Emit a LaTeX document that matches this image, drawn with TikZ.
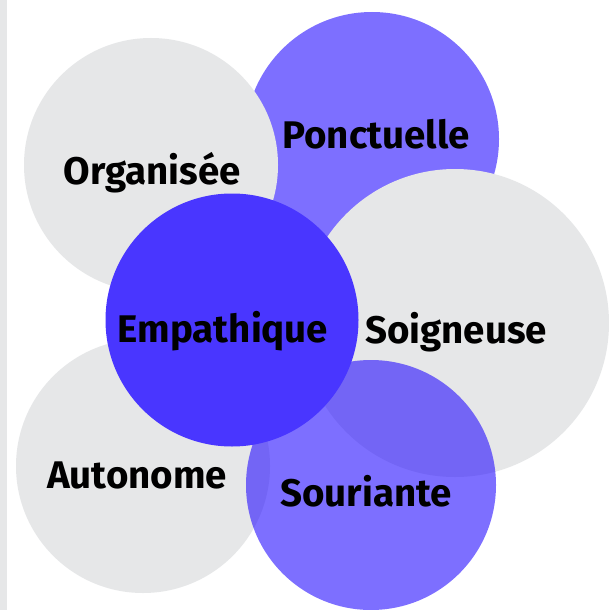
\documentclass[tikz,border=0pt]{standalone}
\usepackage{fontspec}
\setmainfont{Fira Sans}
\usepackage{tikz}
\usetikzlibrary{backgrounds}
\definecolor{gris}{HTML}{E6E7E8}
\definecolor{bleuvif}{HTML}{4936FF}
\definecolor{bleubase}{RGB}{32,8,255}

\begin{document}
\begin{tikzpicture}[x=1pt,y=-1pt,
  bulle/.style={circle,inner sep=0pt,minimum size=#1},
  grise/.style={bulle=#1,fill=gris},
  mauve/.style={bulle=#1,fill=bleubase,fill opacity=0.58},
  mot/.style={anchor=base,inner sep=0pt,font=\fontsize{38.5}{42}\selectfont\bfseries}]
\useasboundingbox (0,0) rectangle (608,610);
\fill[white] (0,0) rectangle (608,610);
\fill[gris] (0,0) rectangle (7,610);
% les bulles
\node[mauve=254pt] (ponctuelle) at (372,139) {};
\node[grise=254pt] (organisee) at (151,165) {};
\node[grise=308pt] (soigneuse) at (455,323) {};
\node[grise=254pt] (autonome) at (143,466) {};
\node[mauve=250pt] (souriante) at (371,485) {};
\node[bulle=253pt,fill=bleuvif] (empathique) at (232,320) {};
% les mots
\node[mot] (tponctuelle) at (376,148.5) {Ponctuelle};
\node[mot] (torganisee) at (152,184) {Organisée};
\node[mot] (tempathique) at (223,342) {Empathique};
\node[mot] (tsoigneuse) at (456,343) {Soigneuse};
\node[mot] (tautonome) at (137,488.5) {Autonome};
\node[mot] (tsouriante) at (366,506) {Souriante};
\end{tikzpicture}
\end{document}
